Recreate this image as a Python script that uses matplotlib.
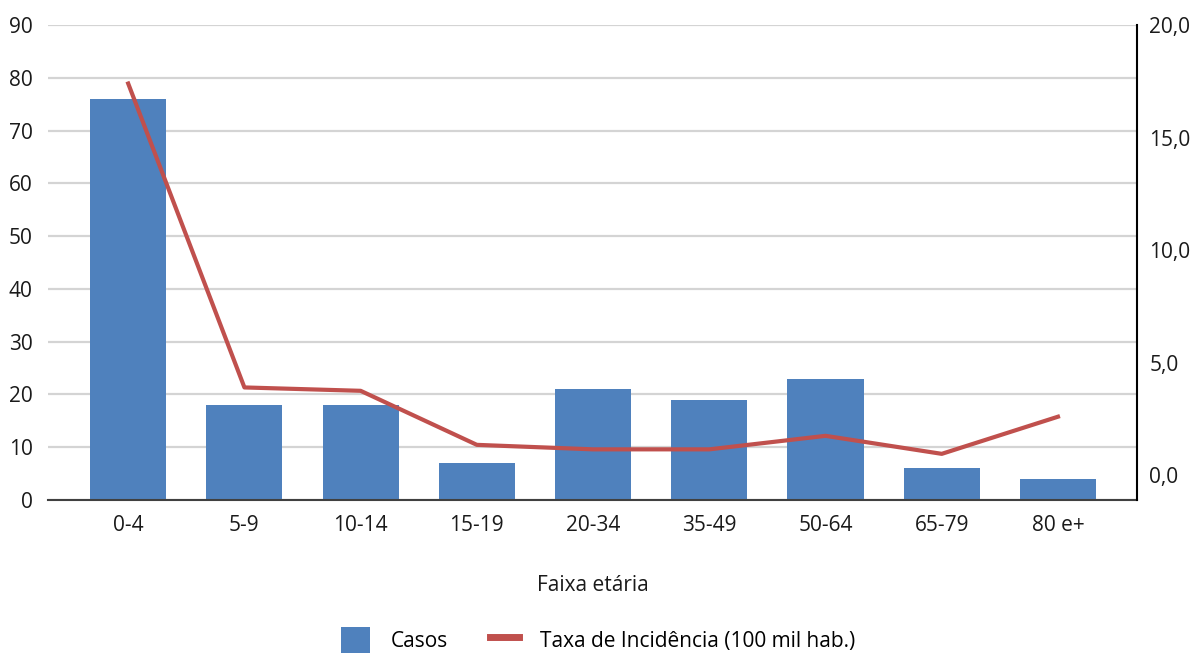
import matplotlib
matplotlib.use("Agg")
import matplotlib.pyplot as plt
import numpy as np
from matplotlib.patches import Patch
from matplotlib.lines import Line2D

categories = ["0-4", "5-9", "10-14", "15-19", "20-34", "35-49", "50-64", "65-79", "80 e+"]
casos = [76, 18, 18, 7, 21, 19, 23, 6, 4]
taxa = [17.4, 3.9, 3.75, 1.35, 1.15, 1.15, 1.75, 0.95, 2.6]
left_ticks = [0, 10, 20, 30, 40, 50, 60, 70, 80, 90]
right_ticks = [0, 5, 10, 15, 20]
right_labels = ["0,0", "5,0", "10,0", "15,0", "20,0"]

plt.rcParams['font.family'] = ['Open Sans', 'DejaVu Sans']

fig = plt.figure(figsize=(11.97, 6.53), dpi=100)
ax = fig.add_axes([48/1197, 1-500/653, (1137-48)/1197, (500-25)/653])
x = np.arange(len(categories))
bar_c = "#4F81BD"
line_c = "#C0504D"
fs = 15

ax.set_axisbelow(True)
ax.bar(x, casos, width=0.655, color=bar_c, zorder=2)
ax.set_ylim(0, 90)
ax.set_yticks(left_ticks)
ax.set_xlim(-0.69, 8.68)
ax.set_xticks(x)
ax.set_xticklabels(categories)
ax.grid(axis='y', color="#D4D4D4", linewidth=1.6)
for s in ['top', 'left', 'right']:
    ax.spines[s].set_visible(False)
ax.spines['bottom'].set_color("#404040")
ax.spines['bottom'].set_linewidth(1.5)
ax.tick_params(axis='both', length=0, labelsize=fs, colors="#1a1a1a")
ax.tick_params(axis='x', pad=11)
ax.tick_params(axis='y', pad=11)
ax.set_xlabel("Faixa etária", fontsize=fs, labelpad=28, color="#1a1a1a")

ax2 = ax.twinx()
ax2.plot(x, taxa, color=line_c, linewidth=3, zorder=3)
ax2.set_ylim(-1.1, 20)
ax2.set_yticks(right_ticks)
ax2.set_yticklabels(right_labels)
for s in ['top', 'left', 'bottom']:
    ax2.spines[s].set_visible(False)
ax2.spines['right'].set_color("#000000")
ax2.spines['right'].set_linewidth(1.5)
ax2.tick_params(axis='y', length=0, labelsize=fs, colors="#1a1a1a", pad=9)

handles = [Patch(facecolor=bar_c, edgecolor='none'),
           Line2D([0], [0], color=line_c, linewidth=5)]
fig.legend(handles, ["Casos", "Taxa de Incidência (100 mil hab.)"],
           loc='center', bbox_to_anchor=(598/1197, 1-640/653), ncol=2,
           frameon=False, fontsize=fs, handlelength=1.4, handleheight=1.5,
           columnspacing=2.0, handletextpad=1.0)

fig.savefig("out.png", dpi=100)
